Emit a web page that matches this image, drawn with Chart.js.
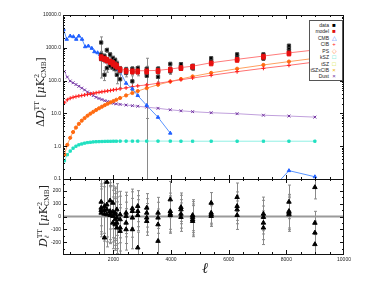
<!DOCTYPE html>
<html><head><meta charset="utf-8">
<script src="https://cdn.jsdelivr.net/npm/chart.js@4"></script>
<style>
html,body{margin:0;padding:0;background:#fff;}
#wrap{position:relative;width:374px;height:299px;overflow:hidden;background:#fff;}
canvas{position:absolute;left:0;top:0;}
.lab{position:absolute;white-space:nowrap;font-family:'DejaVu Serif','Liberation Serif',serif;color:#222;}
.rot{transform:translate(-50%,-50%) rotate(-90deg);}
.ss{display:inline-flex;flex-direction:column;vertical-align:middle;font-size:0.6em;line-height:1;font-style:normal;}
#leg{position:absolute;left:309px;top:20px;width:32px;height:59px;border:1px solid #555;background:#fff;font-family:'Liberation Sans',sans-serif;font-size:5px;color:#222;}
#leg .row{position:absolute;left:0;width:32px;height:6.4px;line-height:6.4px;}
#leg .t{position:absolute;right:13px;text-align:right;white-space:nowrap;}
#leg .s{position:absolute;left:20px;width:8px;text-align:center;font-size:6px;}
</style></head>
<body><div id="wrap">
<canvas id="c1" width="374" height="299"></canvas>
<canvas id="c2" width="374" height="299"></canvas>
<div class="lab rot" style="left:41px;top:92px;font-size:11px;">Δ<i>D</i><span class="ss"><span>TT</span><span><i>ℓ</i></span></span> [<i>μ</i>K<span class="ss"><span>2</span><span>CMB</span></span>]</div>
<div class="lab rot" style="left:44px;top:216px;font-size:11px;"><i>D</i><span class="ss"><span>TT</span><span><i>ℓ</i></span></span> [<i>μ</i>K<span class="ss"><span>2</span><span>CMB</span></span>]</div>
<div class="lab" style="left:205px;top:268px;transform:translate(-50%,-50%);font-size:15px;font-style:italic;">ℓ</div>
<div id="leg"></div>
</div>
<script>
// ---- data ----
const binL = [1574,1689,1771,1885,1979,2059,2118,2232,2439,2657,2844,3155,3547,3972,4343,4747,5391,6291,7204,8090,8990];
const fgL = [300,400,500,600,700,800,900,1000,1100,1200,1300,1400,1500,1600,1700,1800,1900,2000,2100,2232,2439,2657,2844,3155,3547,3972,4343,4747,5391,6291,7204,8090,8990];
const cibV = [21,26,29,31,32.5,34,35,36.5,38,39.5,41,42.5,44,45.5,47,48.5,50,52,54,56,60,65,69,74,83,94,106,120,145,187,237,292,369];
const psV = [0.55,1.1,1.8,2.7,3.7,4.8,6.0,7.2,8.5,9.8,11.2,12.7,14.3,16,17.8,19.7,21.7,23.8,26.1,29.5,35.3,41.9,48,59,74.6,93.6,112,134,172,230,300,380,479];
const kszV = [0.36,0.55,0.71,0.87,1.0,1.1,1.17,1.24,1.29,1.32,1.35,1.37,1.38,1.39,1.4,1.41,1.41,1.42,1.42,1.43,1.43,1.43,1.43,1.43,1.43,1.43,1.42,1.42,1.42,1.42,1.42,1.42,1.42];
const dustV = [190,128,97,86,76,67,59,52,45,40,35,31,28.5,26.5,24.5,23,21.5,20.3,19.5,18.8,18,17.2,16.5,15.5,14.3,12.9,12,11.3,10.5,9.8,8.8,8.3,7.7];
const cmbL = [270,380,500,610,710,800,910,1020,1130,1250,1340,1450,1540,1650,1770,1890,2000,2120,2232,2439,2657,2844,3155,3547,3972,4343,4747,5391,6291,7204,8090,8990];
const cmbV = [3660,1820,2290,2180,1820,2290,1820,1080,1135,966,760,706,630,447,380,339,263,219,188,83,56,35,17.5,7.6,2.5,null,null,null,null,0.026,0.18,0.117];
const model1 = [540,490,450,400,360,320,290,230,205,200,200,200,205,225,250,275,350,445,560,700,860];
const model2 = [470,430,390,350,310,280,255,205,185,180,180,180,185,205,230,255,320,410,510,640,760];
const data1 = [1450,560,850,620,480,420,330,230,220,230,240,230,230,320,316,280,480,630,630,1160,1080];
const data2 = [620,430,420,380,330,300,250,200,200,190,200,170,190,220,265,250,395,540,540,965,865];
const data3 = [450,150,240,280,250,230,150,110,170,95,180,140,130,190,240,237,360,455,470,815,630];
const err1 = [700,90,130,100,80,70,60,40,35,35,40,250,35,45,40,40,50,60,60,110,110];
const err2 = [120,80,80,70,60,55,50,40,35,35,35,35,35,35,35,35,45,55,60,90,100];
const err3 = [330,50,60,55,50,45,70,50,40,45,40,133,40,35,35,35,40,50,55,80,90];
const res1 = [113,80,267,123,105,28,54,15,28,62,80,67,28,131,72,10,105,149,20,113,226];
const res2 = [67,49,92,41,36,15,-10,-23,3,41,41,28,-10,41,54,-5,28,80,-5,41,-50];
const res3 = [49,20,54,20,3,-23,-49,-87,-49,-10,10,-10,-62,20,20,-23,15,54,-49,28,-126];
const res4 = [28,-164,15,10,-49,-62,-87,-113,-100,-100,-241,-36,-190,10,-5,-36,3,10,-87,15,-215];
const resErr = [185,210,250,220,200,200,200,180,160,150,120,110,120,140,110,120,80,110,130,130,90];
const xTicks = [2000,4000,6000,8000,10000];
const yTicksTop = [0.1,1,10,100,1000,10000];
const yTicksBot = [-200,-100,0,100,200];
const legNames = ['data','model','CMB','CIB','PS','kSZ','tSZ','tSZxCIB','Dust'];
const legSyms = ['■','■','△','+','◇','□','□','×','×'];
const legCols = ['#000','#e01010','#2f6fff','#ff2020','#ff7020','#20e0c0','#c8e000','#f0b000','#7030a0'];

// ---- legend ----
const leg = document.getElementById('leg');
legNames.forEach((n,i)=>{
  const r=document.createElement('div'); r.className='row'; r.style.top=(0.8+i*6.45)+'px';
  r.innerHTML='<span class="t">'+n+'</span><span class="s" style="color:'+legCols[i]+'">'+legSyms[i]+'</span>';
  leg.appendChild(r);
});

const pts=(xs,ys)=>xs.map((x,i)=>({x:x,y:ys[i]}));
const tickFont={size:5,family:'Liberation Sans'};

function errPlugin(id, sets, color, log){
  return {id:id, beforeDatasetsDraw(chart){
    const ctx=chart.ctx, a=chart.chartArea, x=chart.scales.x, y=chart.scales.y;
    ctx.save(); ctx.beginPath(); ctx.rect(a.left,a.top,a.right-a.left,a.bottom-a.top); ctx.clip();
    ctx.strokeStyle=color; ctx.lineWidth=1;
    sets.forEach(s=>{ s.xs.forEach((lv,i)=>{
      const v=s.ys[i], e=s.es[i]; if(v==null) return;
      let lo=v-e, hi=v+e; if(log && lo<=0) lo=1e-3;
      const px=Math.round(x.getPixelForValue(lv))+0.5, p1=y.getPixelForValue(lo), p2=y.getPixelForValue(hi);
      ctx.beginPath(); ctx.moveTo(px,p1); ctx.lineTo(px,p2);
      ctx.moveTo(px-1.5,p1); ctx.lineTo(px+1.5,p1); ctx.moveTo(px-1.5,p2); ctx.lineTo(px+1.5,p2); ctx.stroke();
    });});
    ctx.restore();
  }};
}
function framePlugin(id, yMajor, yMinor){
  return {id:id, afterDraw(chart){
    const ctx=chart.ctx, a=chart.chartArea, x=chart.scales.x, y=chart.scales.y;
    ctx.save(); ctx.strokeStyle='#111'; ctx.lineWidth=1;
    ctx.strokeRect(Math.round(a.left)+0.5,Math.round(a.top)+0.5,Math.round(a.right-a.left)-1,Math.round(a.bottom-a.top));
    ctx.beginPath();
    for(let v=500; v<10000; v+=500){
      const px=Math.round(x.getPixelForValue(v))+0.5, L=(v%2000===0)?4:2;
      ctx.moveTo(px,a.bottom); ctx.lineTo(px,a.bottom-L); ctx.moveTo(px,a.top); ctx.lineTo(px,a.top+L);
    }
    const tk=(v,L)=>{const py=Math.round(y.getPixelForValue(v))+0.5; if(py<a.top||py>a.bottom) return;
      ctx.moveTo(a.left,py); ctx.lineTo(a.left+L,py); ctx.moveTo(a.right,py); ctx.lineTo(a.right-L,py);};
    yMajor.forEach(v=>tk(v,4)); yMinor.forEach(v=>tk(v,2));
    ctx.stroke(); ctx.restore();
  }};
}
const logMinor=[]; [0.1,1,10,100,1000].forEach(d=>{for(let k=2;k<10;k++) logMinor.push(d*k);});
const linMinor=[-250,-150,-50,50,150,250];

const base={responsive:false,animation:false,devicePixelRatio:1,events:[]};

const lineDs=(label,xs,ys,col,lineCol,style,r,extra)=>Object.assign({label:label,data:pts(xs,ys),showLine:true,borderColor:lineCol,borderWidth:1,
  pointStyle:style,pointRadius:r,pointBackgroundColor:col,pointBorderColor:col,pointBorderWidth:1,spanGaps:false},extra||{});

new Chart(document.getElementById('c1'),{
  type:'scatter',
  data:{datasets:[
    lineDs('model',binL,model1,'#e81010','#ff7b7b','rect',2.5),
    {label:'model2',data:pts(binL,model2),showLine:false,pointStyle:'rect',pointRadius:2.5,pointBackgroundColor:'#e81010',pointBorderColor:'#e81010'},
    {label:'data1',data:pts(binL,data1),showLine:false,pointStyle:'rect',pointRadius:2.3,pointBackgroundColor:'#000',pointBorderColor:'#444'},
    {label:'data2',data:pts(binL,data2),showLine:false,pointStyle:'rect',pointRadius:2.3,pointBackgroundColor:'#000',pointBorderColor:'#444'},
    {label:'data3',data:pts(binL,data3),showLine:false,pointStyle:'rect',pointRadius:2.3,pointBackgroundColor:'#000',pointBorderColor:'#444'},
    lineDs('CMB',cmbL,cmbV,'#2060ff','#5a95ff','triangle',2),
    lineDs('CIB',fgL,cibV,'#ff1a1a','#ff7070','cross',2),
    lineDs('PS',fgL,psV,'#ff6a10','#ffa060','circle',1.6),
    lineDs('kSZ',fgL,kszV,'#20e0c0','#90f0e4','rect',1.6),
    lineDs('Dust',fgL,dustV,'#7030a0','#c0a0dc','crossRot',2)
  ]},
  options:Object.assign({},base,{
    layout:{padding:{left:43,right:30,top:15,bottom:120}},
    plugins:{legend:{display:false},tooltip:{enabled:false}},
    scales:{
      x:{type:'linear',min:250,max:10000,display:false},
      y:{type:'logarithmic',min:0.1,max:10000,grid:{display:false,drawTicks:false},border:{display:false},
        ticks:{font:tickFont,color:'#222',padding:2,autoSkip:false,callback:v=>Number(v).toFixed(1)},
        afterBuildTicks:s=>{s.ticks=yTicksTop.map(v=>({value:v}));},
        afterFit:s=>{s.width=20;}}
    }
  }),
  plugins:[errPlugin('err1',[{xs:binL,ys:data1,es:err1},{xs:binL,ys:data2,es:err2},{xs:binL,ys:data3,es:err3}],'#8a8a8a',true),
           framePlugin('frame1',yTicksTop,logMinor)]
});

const triDs=(ys)=>({data:pts(binL,ys),showLine:false,pointStyle:'triangle',pointRadius:2.6,pointBackgroundColor:'#000',pointBorderColor:'#000'});
new Chart(document.getElementById('c2'),{
  type:'scatter',
  data:{datasets:[
    triDs(res1),triDs(res2),triDs(res3),triDs(res4),
    {data:[{x:250,y:0},{x:10000,y:0}],showLine:true,borderColor:'#9a9a9a',borderWidth:2,pointRadius:0}
  ]},
  options:Object.assign({},base,{
    layout:{padding:{left:43,right:30,top:179,bottom:35}},
    plugins:{legend:{display:false},tooltip:{enabled:false}},
    scales:{
      x:{type:'linear',min:250,max:10000,grid:{display:false,drawTicks:false},border:{display:false},
        ticks:{font:tickFont,color:'#222',padding:3,autoSkip:false,maxRotation:0,callback:v=>String(v)},
        afterBuildTicks:s=>{s.ticks=xTicks.map(v=>({value:v}));},
        afterFit:s=>{s.height=10;}},
      y:{type:'linear',min:-290,max:290,grid:{display:false,drawTicks:false},border:{display:false},
        ticks:{font:tickFont,color:'#222',padding:2,autoSkip:false,callback:v=>String(v)},
        afterBuildTicks:s=>{s.ticks=yTicksBot.map(v=>({value:v}));},
        afterFit:s=>{s.width=20;}}
    }
  }),
  plugins:[errPlugin('err2',[{xs:binL,ys:res1,es:resErr},{xs:binL,ys:res2,es:resErr},{xs:binL,ys:res3,es:resErr},{xs:binL,ys:res4,es:resErr}],'#8a8a8a',false),
           framePlugin('frame2',yTicksBot,linMinor)]
});
</script>
</body></html>
